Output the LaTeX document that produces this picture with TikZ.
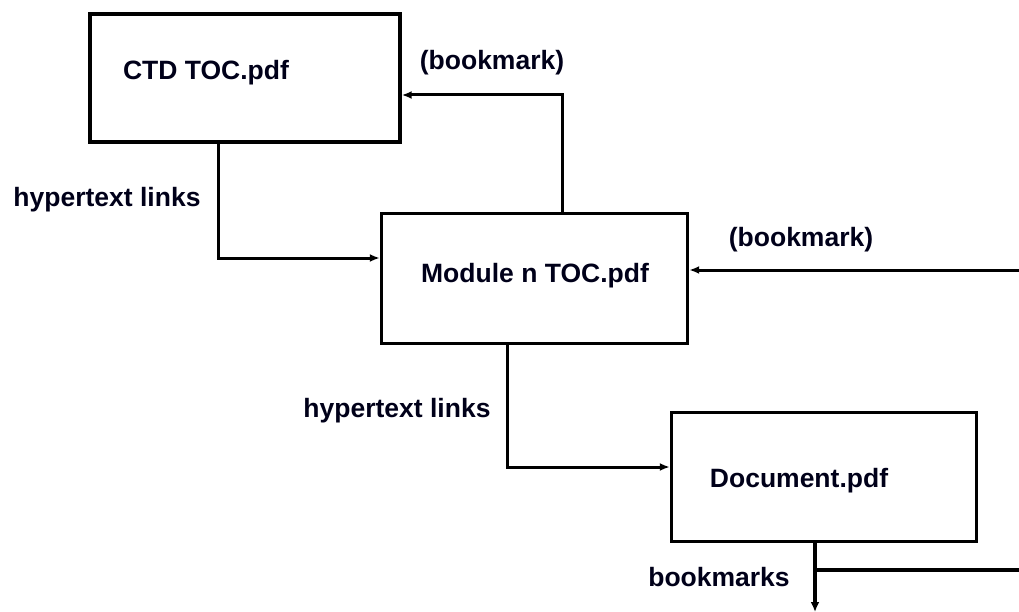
\documentclass[tikz,border=0pt]{standalone}
\usepackage{fontspec}
\setmainfont{Liberation Sans}
\usetikzlibrary{arrows.meta}
\tikzset{
  x=1pt, y=-1pt,
  filebox/.style={draw, line width=3.4pt, minimum width=#1, minimum height=128pt, inner sep=0pt},
  lbl/.style={font=\bfseries\fontsize{26.5}{30}\selectfont, text=black!90!blue, inner sep=0pt},
  link/.style={line width=3pt, -{Latex[length=10pt,width=8pt]}},
  trunk/.style={line width=4.2pt},
}
\begin{document}
\begin{tikzpicture}
\useasboundingbox (0,0) rectangle (1019,612);

% file boxes
\node[filebox=310pt] (ctd) at (245,78) {};
\node[lbl] (ctdtext) at (206,73) {CTD TOC.pdf};
\node[filebox=306pt, minimum height=130pt] (mod) at (534.5,278.5) {};
\node[lbl] (modtext) at (535,276) {Module n TOC.pdf};
\node[filebox=305pt, minimum height=129pt] (doc) at (824,477) {};
\node[lbl] (doctext) at (799,481) {Document.pdf};

% labels
\node[lbl] (hl1) at (107,200) {hypertext links};
\node[lbl] (hl2) at (397,411) {hypertext links};
\node[lbl] (bm1) at (492,63) {(bookmark)};
\node[lbl] (bm2) at (801,240) {(bookmark)};
\node[lbl] (bms) at (719,577) {bookmarks};

% free ends at the right and bottom margins
\coordinate (inR) at (1019,270);
\coordinate (inB) at (1019,570);
\coordinate (outB) at (815,612);

% connectors
\draw[link] (ctd.south -| 218,0) |- (mod.west |- 0,258);
\draw[link] (mod.north -| 562,0) |- (ctd.east |- 0,95);
\draw[link] (inR) -- (mod.east |- inR);
\draw[link] (mod.south -| 507,0) |- (doc.west |- 0,467);
\draw[trunk, -{Latex[length=10pt,width=9pt]}] (doc.south -| outB) -- (outB);
\draw[trunk] (inB) -- (outB |- inB);
\end{tikzpicture}
\end{document}
